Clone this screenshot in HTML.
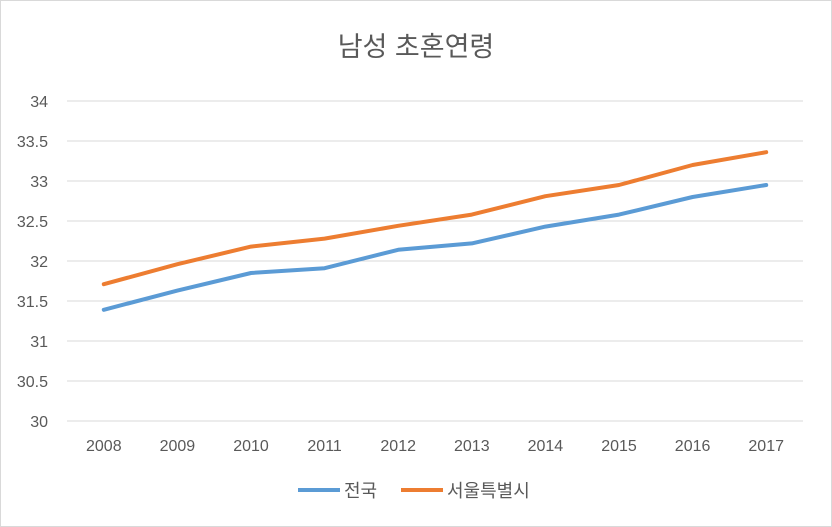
<!DOCTYPE html>
<html><head><meta charset="utf-8"><style>
html,body{margin:0;padding:0;background:#fff;}
svg{display:block;font-family:"Liberation Sans","Noto Sans CJK KR",sans-serif;}
</style></head><body>
<svg id="chart" width="832" height="527">
<rect x="0.5" y="0.5" width="831" height="526" fill="#fff" stroke="#d9d9d9"/>
<text x="416" y="56" text-anchor="middle" font-size="27" fill="#595959">남성 초혼연령</text>
<g id="grid"></g><g id="series"></g>
<g>
<line x1="298" y1="490" x2="340" y2="490" stroke="#5b9bd5" stroke-width="4"/>
<text x="344" y="497" font-size="18" fill="#595959">전국</text>
<line x1="401" y1="490" x2="443" y2="490" stroke="#ed7d31" stroke-width="4"/>
<text x="447" y="497" font-size="18" fill="#595959">서울특별시</text>
</g>
</svg>
<script>
const years=["2008","2009","2010","2011","2012","2013","2014","2015","2016","2017"];
const national=[31.39,31.63,31.85,31.91,32.14,32.22,32.43,32.58,32.80,32.95];
const seoul=[31.71,31.96,32.18,32.28,32.44,32.58,32.81,32.95,33.20,33.36];
const yTicks=[30,30.5,31,31.5,32,32.5,33,33.5,34];
const NS="http://www.w3.org/2000/svg";
const x0=67,x1=803,yMin=30,yMax=34,yb=421,yt=101;
const step=(x1-x0)/years.length;
const xs=i=>x0+step*(i+0.5);
const ys=v=>yb-(v-yMin)/(yMax-yMin)*(yb-yt);
const grid=document.getElementById('grid'),ser=document.getElementById('series');
function mk(t,a,p){const e=document.createElementNS(NS,t);for(const k in a)e.setAttribute(k,a[k]);p.appendChild(e);return e;}
yTicks.forEach(v=>{
  const l=mk('line',{x1:x0,x2:x1,y1:ys(v),y2:ys(v),stroke:'#d9d9d9','stroke-width':1},grid);
  
  
  const t=mk('text',{x:48,y:ys(v)+6,'text-anchor':'end','font-size':16,fill:'#595959'},grid);
  t.textContent=String(v);
  
  
});
years.forEach((y,i)=>{
  const t=mk('text',{x:xs(i),y:451,'text-anchor':'middle','font-size':16,fill:'#595959'},grid);
  t.textContent=y;
  
  
});
[[national,'#5b9bd5','line-national'],[seoul,'#ed7d31','line-seoul']].forEach(([d,c,n])=>{
  const p=mk('polyline',{points:d.map((v,i)=>xs(i)+','+ys(v)).join(' '),fill:'none',stroke:c,'stroke-width':4,'stroke-linejoin':'round','stroke-linecap':'round'},ser);
  
  
});
</script>
</body></html>
